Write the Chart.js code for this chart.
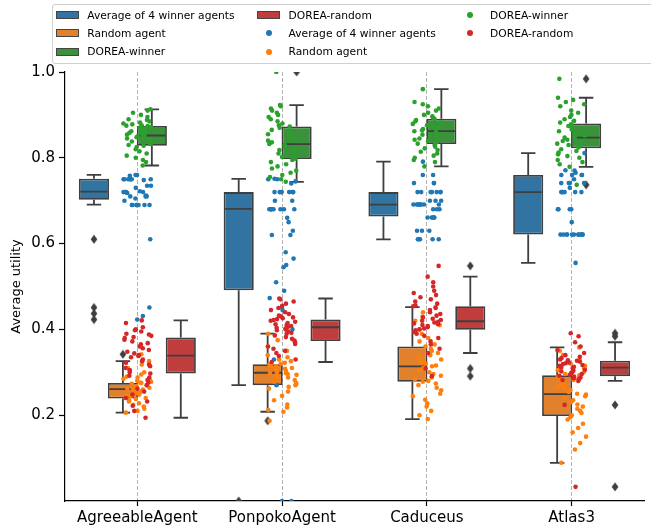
<!DOCTYPE html>
<html><head><meta charset="utf-8">
<script src="https://cdn.jsdelivr.net/npm/chart.js@4.4.0/dist/chart.umd.min.js"></script>
<style>
html,body{margin:0;padding:0;background:#fff;overflow:hidden;width:651px;height:525px;}
#wrap{position:relative;width:651px;height:545px;}
#c{position:absolute;left:0;top:0;}
#legend{position:absolute;left:52px;top:4px;width:640px;height:58px;border:1px solid #d0d0d0;border-radius:3px;background:rgba(255,255,255,0.8);font-family:"DejaVu Sans";font-size:10.7px;color:#000;z-index:2;}
.item{position:absolute;height:18px;display:flex;align-items:center;white-space:nowrap;}
.h{width:23px;height:18px;position:relative;margin-right:8.6px;flex:none;}
.patch{position:absolute;left:0;top:5px;width:21px;height:6px;border:1px solid #444;}
.dot{position:absolute;left:8.5px;top:6px;width:6px;height:6px;border-radius:50%;}
</style>
</head>
<body>
<div id="wrap">
<canvas id="c" width="651" height="545"></canvas>
<div id="legend"></div>
</div>
<script>
// ---------------- DATA ----------------
const categories = ["AgreeableAgent", "PonpokoAgent", "Caduceus", "Atlas3"];
const seriesNames = ["Average of 4 winner agents", "Random agent", "DOREA-winner", "DOREA-random"];
const yTicks = [0.2, 0.4, 0.6, 0.8, 1.0];

// box statistics per category: [lower whisker, Q1, median, Q3, upper whisker]
const boxAvg4 = [[0.691,0.702,0.721,0.751,0.760],[0.270,0.491,0.681,0.720,0.751],[0.610,0.663,0.691,0.720,0.791],[0.555,0.621,0.720,0.760,0.811]];
const boxRandom = [[0.206,0.239,0.261,0.275,0.326],[0.208,0.270,0.299,0.319,0.390],[0.191,0.278,0.314,0.360,0.452],[0.089,0.198,0.249,0.293,0.358]];
const boxDoreaWinner = [[0.782,0.828,0.852,0.874,0.913],[0.744,0.797,0.832,0.873,0.923],[0.780,0.832,0.862,0.891,0.960],[0.779,0.822,0.847,0.880,0.940]];
const boxDoreaRandom = [[0.194,0.297,0.339,0.381,0.421],[0.324,0.373,0.405,0.423,0.472],[0.345,0.399,0.419,0.454,0.523],[0.280,0.291,0.311,0.327,0.370]];

// outliers: [category index, value]
const fliersAvg4 = [[0,0.610],[0,0.451],[0,0.437],[0,0.423],[1,0.0]];
const fliersRandom = [[0,0.342],[1,0.187]];
const fliersDoreaWinner = [[1,1.0],[3,0.984],[3,0.737]];
const fliersDoreaRandom = [[2,0.548],[2,0.309],[2,0.291],[3,0.391],[3,0.384],[3,0.224],[3,0.033]];

// individual observations (strip points)
const avg4Agreeable = [0.76,0.76,0.758,0.75,0.75,0.75,0.75,0.75,0.75,0.75,0.748,0.735,0.735,0.73,0.722,0.72,0.72,0.72,0.72,0.718,0.712,0.71,0.71,0.71,0.705,0.70,0.69,0.69,0.69,0.69,0.69,0.69,0.69,0.69,0.61,0.451,0.431,0.423];
const avg4Ponpoko = [0.751,0.75,0.75,0.745,0.74,0.72,0.72,0.72,0.72,0.72,0.72,0.72,0.70,0.70,0.68,0.68,0.68,0.68,0.68,0.68,0.68,0.68,0.66,0.65,0.63,0.62,0.62,0.58,0.565,0.55,0.545,0.51,0.49,0.473,0.452,0.445,0.40,0.33,0.27,0.0,0.0];
const avg4Caduceus = [0.791,0.76,0.76,0.741,0.741,0.741,0.72,0.72,0.72,0.72,0.72,0.72,0.72,0.70,0.70,0.70,0.691,0.691,0.691,0.691,0.691,0.691,0.691,0.691,0.68,0.68,0.68,0.661,0.661,0.661,0.661,0.661,0.63,0.63,0.63,0.61,0.61,0.61,0.61,0.61];
const avg4Atlas3 = [0.811,0.771,0.77,0.765,0.76,0.76,0.76,0.76,0.75,0.741,0.741,0.741,0.741,0.73,0.72,0.72,0.72,0.72,0.72,0.72,0.68,0.68,0.68,0.68,0.65,0.621,0.621,0.621,0.621,0.621,0.621,0.621,0.621,0.621,0.621,0.621,0.621,0.555];

const randomAgreeable = [0.342,0.326,0.318,0.31,0.30,0.295,0.29,0.288,0.285,0.282,0.28,0.278,0.276,0.275,0.273,0.27,0.268,0.266,0.264,0.262,0.261,0.26,0.258,0.256,0.254,0.252,0.25,0.248,0.246,0.244,0.242,0.24,0.238,0.235,0.232,0.228,0.224,0.22,0.215,0.21,0.206];
const randomPonpoko = [0.39,0.375,0.36,0.35,0.34,0.335,0.33,0.326,0.322,0.32,0.318,0.316,0.314,0.312,0.31,0.308,0.305,0.303,0.30,0.299,0.298,0.296,0.294,0.292,0.29,0.288,0.285,0.282,0.278,0.275,0.272,0.27,0.266,0.262,0.255,0.245,0.235,0.225,0.218,0.212,0.208,0.187];
const randomCaduceus = [0.452,0.44,0.43,0.42,0.41,0.40,0.39,0.38,0.372,0.365,0.36,0.355,0.35,0.345,0.34,0.335,0.33,0.325,0.32,0.316,0.314,0.31,0.305,0.30,0.296,0.292,0.288,0.284,0.28,0.278,0.274,0.27,0.264,0.258,0.25,0.244,0.236,0.228,0.22,0.21,0.2,0.191];
const randomAtlas3 = [0.358,0.35,0.34,0.33,0.32,0.315,0.31,0.305,0.30,0.296,0.293,0.29,0.286,0.282,0.278,0.274,0.27,0.266,0.262,0.258,0.254,0.25,0.248,0.244,0.24,0.235,0.23,0.225,0.22,0.215,0.21,0.205,0.2,0.195,0.19,0.18,0.17,0.16,0.15,0.135,0.12,0.089];

const doreaWinnerAgreeable = [0.913,0.91,0.905,0.9,0.895,0.89,0.888,0.885,0.882,0.88,0.878,0.876,0.875,0.874,0.872,0.87,0.868,0.865,0.862,0.86,0.858,0.856,0.854,0.852,0.85,0.848,0.846,0.845,0.843,0.84,0.838,0.835,0.832,0.83,0.828,0.825,0.82,0.815,0.81,0.805,0.80,0.795,0.79,0.782];
const doreaWinnerPonpoko = [1.0,0.923,0.92,0.915,0.91,0.905,0.9,0.895,0.89,0.885,0.88,0.876,0.873,0.87,0.865,0.86,0.855,0.85,0.845,0.84,0.836,0.832,0.83,0.826,0.822,0.818,0.814,0.81,0.806,0.802,0.798,0.795,0.79,0.785,0.78,0.775,0.77,0.765,0.76,0.755,0.75,0.744];
const doreaWinnerCaduceus = [0.96,0.93,0.925,0.92,0.915,0.91,0.905,0.9,0.897,0.894,0.891,0.888,0.885,0.882,0.879,0.876,0.873,0.87,0.867,0.864,0.862,0.86,0.857,0.854,0.851,0.848,0.845,0.842,0.839,0.836,0.833,0.83,0.826,0.822,0.818,0.814,0.81,0.805,0.8,0.795,0.79,0.78];
const doreaWinnerAtlas3 = [0.984,0.94,0.935,0.93,0.925,0.92,0.91,0.905,0.9,0.895,0.89,0.886,0.882,0.878,0.874,0.87,0.866,0.862,0.858,0.855,0.852,0.849,0.847,0.845,0.842,0.839,0.836,0.833,0.83,0.827,0.824,0.82,0.816,0.812,0.808,0.804,0.8,0.795,0.79,0.785,0.779,0.737];

const doreaRandomAgreeable = [0.421,0.415,0.405,0.40,0.398,0.395,0.39,0.388,0.385,0.382,0.38,0.376,0.372,0.368,0.365,0.36,0.356,0.352,0.348,0.344,0.34,0.338,0.335,0.33,0.326,0.322,0.318,0.314,0.31,0.305,0.30,0.297,0.292,0.288,0.282,0.276,0.27,0.262,0.255,0.248,0.24,0.232,0.222,0.21,0.194];
const doreaRandomPonpoko = [0.472,0.47,0.465,0.46,0.455,0.45,0.445,0.44,0.436,0.432,0.43,0.428,0.426,0.424,0.422,0.42,0.418,0.415,0.412,0.41,0.408,0.406,0.404,0.402,0.40,0.398,0.395,0.392,0.39,0.386,0.382,0.378,0.374,0.37,0.366,0.36,0.355,0.35,0.345,0.338,0.33,0.324];
const doreaRandomCaduceus = [0.548,0.523,0.51,0.5,0.49,0.485,0.48,0.475,0.47,0.465,0.46,0.456,0.454,0.45,0.445,0.44,0.436,0.432,0.428,0.425,0.422,0.42,0.418,0.416,0.414,0.412,0.41,0.408,0.405,0.402,0.40,0.398,0.394,0.39,0.385,0.38,0.372,0.365,0.355,0.345,0.309,0.291];
const doreaRandomAtlas3 = [0.391,0.384,0.37,0.36,0.352,0.345,0.34,0.336,0.333,0.33,0.328,0.327,0.325,0.323,0.321,0.319,0.317,0.315,0.313,0.311,0.31,0.308,0.306,0.304,0.302,0.3,0.298,0.296,0.294,0.292,0.29,0.288,0.286,0.284,0.282,0.28,0.224,0.033];

// ---------------- STYLE / BUILD ----------------
const boxColors = ["#3274a1", "#e1812c", "#3a923a", "#c03d3e"];
const pointColors = ["#1f77b4", "#ff7f0e", "#2ca02c", "#d62728"];
const edgeColor = "#3f3f3f";
const hueOffsets = [-0.3, -0.1, 0.1, 0.3];
const boxHalf = 0.1, capHalf = 0.05;

const boxStats = [boxAvg4, boxRandom, boxDoreaWinner, boxDoreaRandom];
const fliers = [fliersAvg4, fliersRandom, fliersDoreaWinner, fliersDoreaRandom];
const strips = [
  [avg4Agreeable, avg4Ponpoko, avg4Caduceus, avg4Atlas3],
  [randomAgreeable, randomPonpoko, randomCaduceus, randomAtlas3],
  [doreaWinnerAgreeable, doreaWinnerPonpoko, doreaWinnerCaduceus, doreaWinnerAtlas3],
  [doreaRandomAgreeable, doreaRandomPonpoko, doreaRandomCaduceus, doreaRandomAtlas3]
];

function jitter(h, c, k) {
  const s = Math.sin((h + 1) * 12.9898 + (c + 1) * 78.233 + (k + 1) * 37.719) * 43758.5453;
  return ((s - Math.floor(s)) - 0.5) * 0.2;
}

function makeDiamond() {
  const cv = document.createElement('canvas');
  cv.width = 8; cv.height = 10;
  const g = cv.getContext('2d');
  g.fillStyle = edgeColor;
  g.beginPath();
  g.moveTo(4, 0.5); g.lineTo(7.4, 5); g.lineTo(4, 9.5); g.lineTo(0.6, 5);
  g.closePath(); g.fill();
  return cv;
}
const diamond = makeDiamond();

const datasets = [];
// boxes
boxStats.forEach((stats, h) => {
  datasets.push({
    type: 'bar',
    label: seriesNames[h] + ' box',
    data: stats.map((s, c) => ({ x: c + hueOffsets[h], y: [s[1], s[3]] })),
    backgroundColor: boxColors[h],
    borderColor: edgeColor,
    borderWidth: 1.8,
    borderSkipped: false,
    grouped: false,
    categoryPercentage: 1.04,
    barPercentage: 1.0,
    order: 10
  });
});
// whiskers, caps and medians
boxStats.forEach((stats, h) => {
  const pts = [];
  stats.forEach((s, c) => {
    const cx = c + hueOffsets[h];
    const [lo, q1, med, q3, hi] = s;
    pts.push({x: cx, y: q3}, {x: cx, y: hi}, {x: cx, y: null});
    pts.push({x: cx - capHalf, y: hi}, {x: cx + capHalf, y: hi}, {x: cx, y: null});
    pts.push({x: cx, y: q1}, {x: cx, y: lo}, {x: cx, y: null});
    pts.push({x: cx - capHalf, y: lo}, {x: cx + capHalf, y: lo}, {x: cx, y: null});
    pts.push({x: cx - boxHalf + 0.006, y: med}, {x: cx + boxHalf - 0.006, y: med}, {x: cx, y: null});
  });
  datasets.push({
    type: 'line',
    label: seriesNames[h] + ' whiskers',
    data: pts,
    borderColor: edgeColor,
    borderWidth: 1.8,
    pointRadius: 0,
    spanGaps: false,
    fill: false,
    tension: 0,
    order: 9
  });
});
// fliers
const flierPts = [];
fliers.forEach((list, h) => list.forEach(([c, v]) => flierPts.push({x: c + hueOffsets[h], y: v})));
datasets.push({
  type: 'scatter',
  label: 'outliers',
  data: flierPts,
  pointStyle: diamond,
  pointRadius: 4,
  order: 8
});
// strip points
strips.forEach((cats, h) => {
  const pts = [];
  cats.forEach((vals, c) => vals.forEach((v, k) => pts.push({x: c + jitter(h, c, k), y: v})));
  datasets.push({
    type: 'scatter',
    label: seriesNames[h],
    data: pts,
    backgroundColor: pointColors[h],
    borderWidth: 0,
    pointRadius: 2.3,
    pointHoverRadius: 2.3,
    order: 4 - h
  });
});

const font = 'DejaVu Sans';
new Chart(document.getElementById('c'), {
  type: 'scatter',
  data: { datasets },
  options: {
    responsive: false,
    animation: false,
    devicePixelRatio: 1,
    events: [],
    layout: { padding: { left: 0, right: 7, top: 72, bottom: 0 } },
    plugins: { legend: { display: false }, tooltip: { enabled: false } },
    scales: {
      x: {
        type: 'linear', min: -0.5, max: 3.5, offset: false,
        afterBuildTicks: s => { s.ticks = categories.map((_, i) => ({ value: i })); },
        afterFit: s => { s.height = 44; },
        ticks: { font: { family: font, size: 15 }, color: '#000', padding: 3, maxRotation: 0, autoSkip: false,
                 callback: v => categories[v] },
        grid: { display: true, drawOnChartArea: true, offset: false, color: '#b3b3b3', lineWidth: 1,
                drawTicks: true, tickLength: 5, tickColor: '#000', tickWidth: 1.2, tickBorderDash: [] },
        border: { display: true, color: '#000', width: 1.2, dash: [4, 2] }
      },
      y: {
        type: 'linear', min: 0, max: 1,
        afterBuildTicks: s => { s.ticks = yTicks.map(v => ({ value: v })); },
        afterFit: s => { s.width = 65; },
        ticks: { font: { family: font, size: 15 }, color: '#000', padding: 4, callback: v => Number(v).toFixed(1) },
        grid: { drawOnChartArea: false, drawTicks: true, tickLength: 6, tickColor: '#000', tickWidth: 1.2 },
        border: { display: true, color: '#000', width: 1.2 },
        title: { display: true, text: 'Average utility', font: { family: font, size: 13 }, color: '#000',
                 padding: { top: 9, bottom: 0 } }
      }
    }
  }
});

// HTML legend (matplotlib-style, column-major, 3 columns)
const legend = document.getElementById('legend');
const entries = [];
seriesNames.forEach((n, h) => entries.push({ kind: 'patch', name: n, h }));
seriesNames.forEach((n, h) => entries.push({ kind: 'dot', name: n, h }));
const colX = [2.7, 204, 405.5];
const rowY = [1, 19.3, 37.7];
entries.forEach((e, i) => {
  const col = Math.floor(i / 3), row = i % 3;
  const it = document.createElement('div');
  it.className = 'item';
  it.style.left = colX[col] + 'px';
  it.style.top = rowY[row] + 'px';
  const hd = document.createElement('span');
  hd.className = 'h';
  const mk = document.createElement('span');
  if (e.kind === 'patch') { mk.className = 'patch'; mk.style.background = boxColors[e.h]; }
  else { mk.className = 'dot'; mk.style.background = pointColors[e.h]; }
  hd.appendChild(mk);
  const tx = document.createElement('span');
  tx.textContent = e.name;
  it.appendChild(hd); it.appendChild(tx);
  legend.appendChild(it);
});
</script>
</body></html>
